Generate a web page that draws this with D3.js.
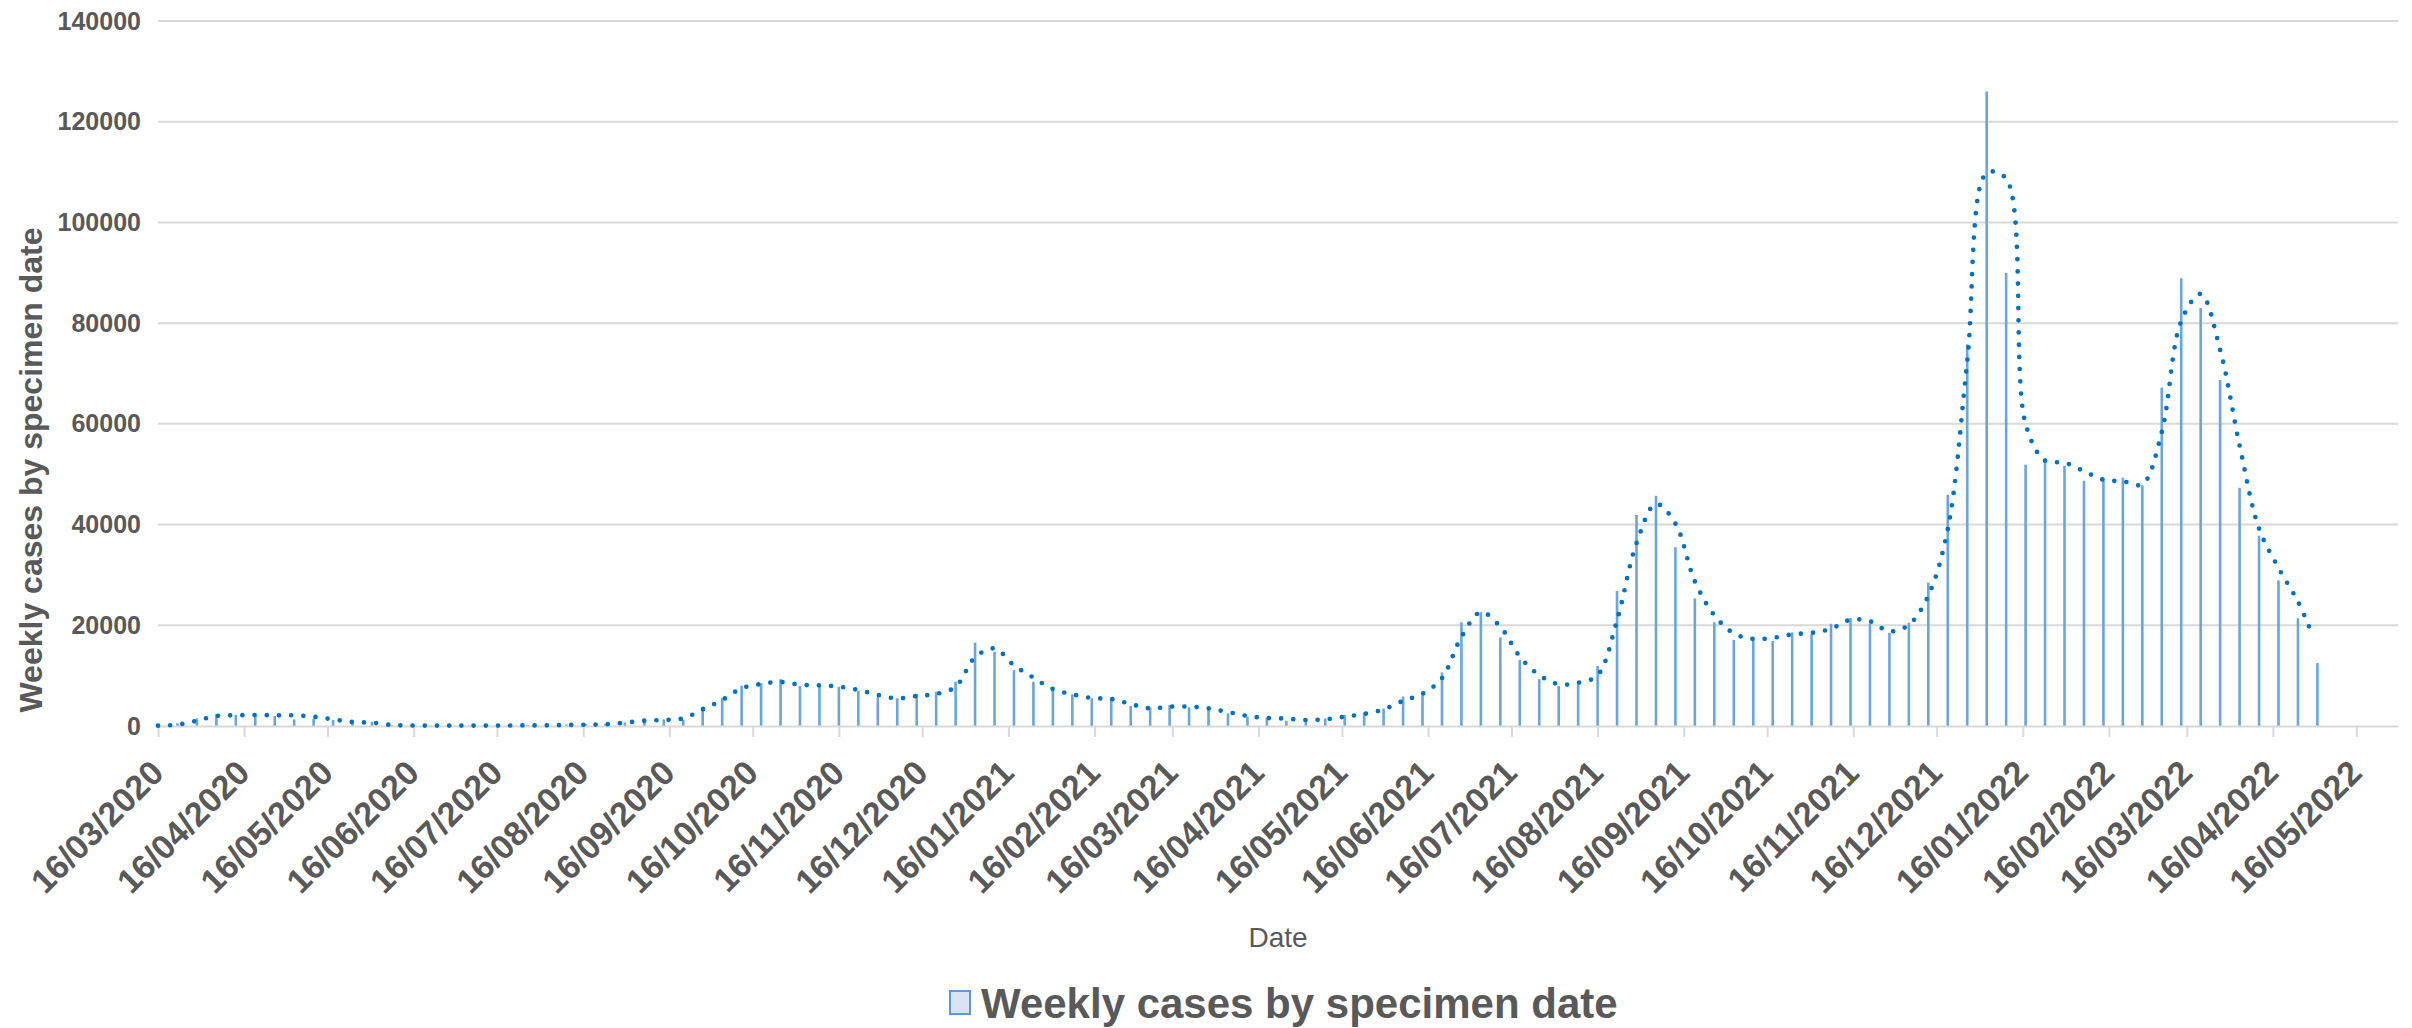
<!DOCTYPE html>
<html>
<head>
<meta charset="utf-8">
<script src="https://cdn.jsdelivr.net/npm/d3@7"></script>
<style>
  html, body { margin: 0; padding: 0; background: #fff; }
  svg { display: block; font-family: "Liberation Sans", Arial, sans-serif; }
</style>
</head>
<body>
<svg width="2412" height="1028"></svg>
<script>
// weekly cases by specimen date, first week starts 16/03/2020
const firstWeek = "16/03/2020";
const weeklyCases = [
  150, 550, 1500, 2350, 2200, 1900, 2000, 1300, 1500, 1200,
  550, 850, 200, 150, 120, 100, 100, 120, 150, 200,
  250, 300, 350, 450, 700, 1100, 1300, 1250, 3850, 5600,
  8000, 8500, 9300, 7950, 8150, 7800, 7000, 5700, 5500, 6350,
  6800, 8800, 16550, 14750, 11100, 8800, 7150, 6300, 5500, 5650,
  4000, 3700, 4150, 3700, 3500, 2500, 1850, 1650, 1050, 1200,
  1500, 2200, 2700, 3450, 5850, 6800, 10650, 20600, 22600, 17600,
  13100, 9300, 7950, 8800, 11900, 26800, 41900, 45700, 35500, 25350,
  20600, 17100, 17350, 16900, 18600, 18200, 20300, 21450, 20300, 18500,
  20500, 28500, 45900, 75800, 126000, 90000, 51900, 53150, 51700, 48700,
  49200, 49300, 47800, 67200, 88900, 83000, 68700, 47300, 37800, 28900,
  21400, 12500
];

// dotted trend, one value per week, then its last point
const trendValues = [
  70, 260, 1060, 1990, 2120, 2180, 2120, 2120, 1850, 1320,
  790, 660, 200, 100, 80, 80, 80, 90, 100, 120,
  130, 200, 260, 330, 660, 1060, 1190, 1520, 3310, 5160,
  7480, 8340, 8740, 8200, 8080, 7810, 7150, 6160, 5490, 5960,
  6360, 7800, 13640, 15400, 12050, 9600, 7350, 6290, 5560, 5360,
  4370, 3500, 3840, 3840, 3500, 2780, 1990, 1590, 1460, 1190,
  1320, 1850, 2400, 3300, 5000, 6400, 9500, 17700, 22600, 19700,
  13800, 10100, 8300, 8600, 10100, 21000, 36300, 44100, 40200, 28700,
  22000, 18400, 17300, 17500, 18200, 18500, 19300, 21100, 20800, 18800,
  20100, 25900, 39100, 72400, 109800, 108700, 60000, 52700, 52300, 50600,
  48900, 48600, 48000, 58400, 80400, 85800, 74700, 55700, 39200, 31400,
  24700
];
const trendEndDate = "30/04/2022";
const trendEndValue = 18400;

const xTickLabels = [
  "16/03/2020", "16/04/2020", "16/05/2020", "16/06/2020", "16/07/2020", "16/08/2020",
  "16/09/2020", "16/10/2020", "16/11/2020", "16/12/2020", "16/01/2021", "16/02/2021",
  "16/03/2021", "16/04/2021", "16/05/2021", "16/06/2021", "16/07/2021", "16/08/2021",
  "16/09/2021", "16/10/2021", "16/11/2021", "16/12/2021", "16/01/2022", "16/02/2022",
  "16/03/2022", "16/04/2022", "16/05/2022"
];
const yTicks = [0, 20000, 40000, 60000, 80000, 100000, 120000, 140000];

const parse = d3.timeParse("%d/%m/%Y");
const fmt = d3.timeFormat("%d/%m/%Y");
const start = parse(firstWeek);
const weeks = weeklyCases.map((v, i) => ({ date: d3.timeDay.offset(start, 7 * i), value: v }));
const trend = trendValues.map((v, i) => ({ date: d3.timeDay.offset(start, 7 * i), value: v }));
trend.push({ date: parse(trendEndDate), value: trendEndValue });

const svg = d3.select("svg");
const plotLeft = 158, plotRight = 2398, plotTop = 21, plotBottom = 726;
const textCol = "#595959", gridCol = "#d9d9d9";

const x = d3.scaleTime()
  .domain([start, parse("31/05/2022")])
  .range([plotLeft, plotRight]);
const y = d3.scaleLinear()
  .domain([0, 140000])
  .range([plotBottom, plotTop]);

// gridlines
svg.append("g")
  .selectAll("line")
  .data(yTicks.filter(d => d > 0))
  .enter().append("line")
  .attr("x1", plotLeft).attr("x2", plotRight)
  .attr("y1", d => y(d)).attr("y2", d => y(d))
  .attr("stroke", gridCol).attr("stroke-width", 2);

// y axis labels
const yAxis = svg.append("g")
  .attr("transform", `translate(${plotLeft},0)`)
  .call(d3.axisLeft(y).tickValues(yTicks).tickFormat(d3.format("d")).tickSize(0).tickPadding(17));
yAxis.select(".domain").remove();
yAxis.selectAll("text")
  .attr("fill", textCol)
  .style("font-size", "25px")
  .style("font-weight", "bold")
  .style("font-family", "'Liberation Sans', Arial, sans-serif");

// bars
svg.append("g")
  .selectAll("rect")
  .data(weeks)
  .enter().append("rect")
  .attr("x", d => x(d.date) - 1.3)
  .attr("width", 2.6)
  .attr("y", d => y(d.value))
  .attr("height", d => y(0) - y(d.value))
  .attr("fill", "#6aa6dc");

// x axis
const xAxis = svg.append("g")
  .attr("transform", `translate(0,${plotBottom})`)
  .call(d3.axisBottom(x).tickValues(xTickLabels.map(parse)).tickFormat(fmt).tickSize(11).tickSizeOuter(0));
xAxis.select(".domain").attr("stroke", gridCol).attr("stroke-width", 2);
xAxis.selectAll(".tick line").attr("stroke", gridCol).attr("stroke-width", 2);
xAxis.selectAll("text")
  .attr("x", 0).attr("y", 0).attr("dy", 0)
  .attr("transform", "translate(7,49) rotate(-45)")
  .style("text-anchor", "end")
  .attr("fill", textCol)
  .style("font-size", "34px")
  .style("font-weight", "bold")
  .style("font-family", "'Liberation Sans', Arial, sans-serif");

// dotted trend line
const line = d3.line()
  .x(d => x(d.date))
  .y(d => y(d.value))
  .curve(d3.curveCatmullRom.alpha(0.5));
svg.append("path")
  .datum(trend)
  .attr("d", line)
  .attr("fill", "none")
  .attr("stroke", "#0070c0")
  .attr("stroke-width", 4.7)
  .attr("stroke-linecap", "round")
  .attr("stroke-dasharray", "0 12.2");

// axis titles
svg.append("text")
  .attr("transform", "translate(42,470) rotate(-90)")
  .attr("text-anchor", "middle")
  .attr("fill", textCol)
  .style("font-size", "32px")
  .style("font-weight", "bold")
  .text("Weekly cases by specimen date");

svg.append("text")
  .attr("x", (plotLeft + plotRight) / 2)
  .attr("y", 947)
  .attr("text-anchor", "middle")
  .attr("fill", textCol)
  .style("font-size", "28px")
  .text("Date");

// legend
const legend = svg.append("g");
legend.append("rect")
  .attr("x", 950).attr("y", 991).attr("width", 20).attr("height", 23)
  .attr("fill", "#dae3f3").attr("stroke", "#5b9bd5").attr("stroke-width", 2);
legend.append("text")
  .attr("x", 981).attr("y", 1003)
  .attr("dominant-baseline", "central")
  .attr("fill", textCol)
  .style("font-size", "42px")
  .style("font-weight", "bold")
  .text("Weekly cases by specimen date");
</script>
</body>
</html>
